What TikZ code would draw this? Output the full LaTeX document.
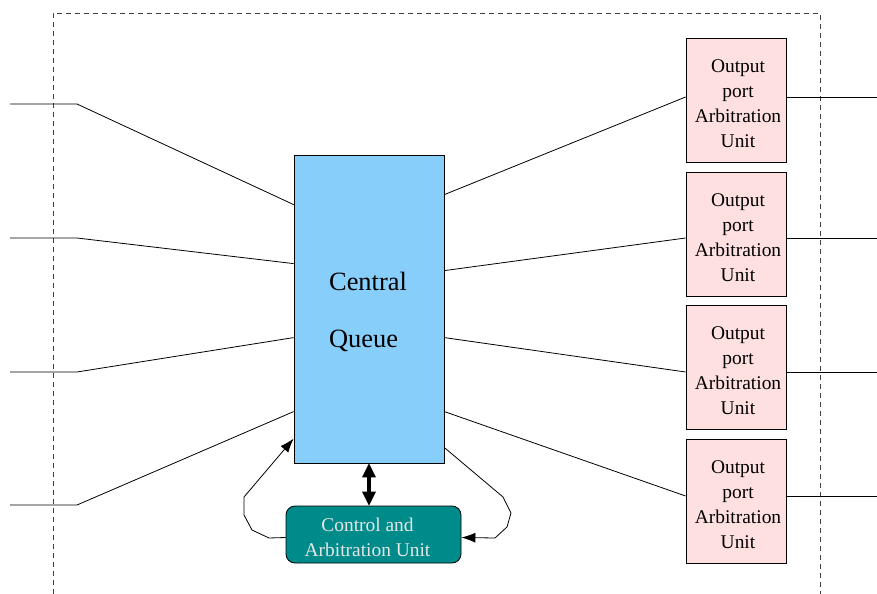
\documentclass[tikz,border=0pt]{standalone}
\usepackage{fontspec}
\setmainfont{Liberation Serif}
\usetikzlibrary{arrows.meta}
\definecolor{queueblue}{HTML}{87CEFA}
\definecolor{ctrlteal}{HTML}{008B8B}
\definecolor{portpink}{HTML}{FFE0E0}
\definecolor{ctrltext}{HTML}{E6E6E6}
\definecolor{borderdash}{HTML}{404040}
\tikzset{
  wire/.style={draw=black, line width=0.8bp},
  queuebox/.style={draw=black, line width=0.8bp, fill=queueblue,
    minimum width=150bp, minimum height=308bp, inner sep=0pt},
  queuetext/.style={inner sep=0pt, font=\fontsize{26.5}{58}\selectfont, align=left},
  ctrlbox/.style={draw=black, line width=0.8bp, fill=ctrlteal, rounded corners=9bp,
    minimum width=175bp, minimum height=57bp, inner sep=0pt},
  ctrltextstyle/.style={inner sep=0pt, text=ctrltext,
    font=\fontsize{19.5}{25}\selectfont, align=center},
  portbox/.style={draw=black, line width=0.8bp, fill=portpink,
    minimum width=100bp, minimum height=124bp, inner sep=0pt},
  porttext/.style={inner sep=0pt, font=\fontsize{19.5}{25}\selectfont, align=center},
  feedback/.style={wire, -{Latex[length=14bp,width=10bp]}},
  tiphead/.style={draw=none, fill=black},
  busline/.style={draw=black, line width=3.2bp},
  boundary/.style={draw=borderdash, line width=0.8bp, dash pattern=on 5bp off 4bp}
}
\begin{document}
\begin{tikzpicture}[x=1bp,y=-1bp]
\useasboundingbox (0,0) rectangle (877,594);

% switch boundary (open at the bottom)
\draw[boundary] (53,594) -- (53,13) -- (820,13) -- (820,594);

% central queue and its control unit
\node[queuebox] (cq) at (369,309) {};
\node[queuetext] (cqtext) at ([xshift=-1bp,yshift=-3bp]cq.center) {Central\\Queue};
\node[ctrlbox] (ctrl) at (373.5,534.5) {};
\node[ctrltextstyle] (ctrltxt) at ([xshift=-6bp,yshift=-3bp]ctrl.center) {Control and\\Arbitration Unit};

% output port arbitration units
\foreach \i/\y in {1/100,2/234,3/367,4/501}{
  \node[portbox] (p\i) at (736,\y) {};
  \node[porttext] (p\i text) at ([xshift=2bp,yshift=-4bp]p\i.center) {Output\\port\\Arbitration\\Unit};
}

% input links
\coordinate (in1) at (10,104);
\coordinate (in2) at (10,238);
\coordinate (in3) at (10,372);
\coordinate (in4) at (10,505);
\draw[wire] (in1) -- (77,104) -- ([yshift=-50bp]cq.north west);
\draw[wire] (in2) -- (77,238) -- ([yshift=-109bp]cq.north west);
\draw[wire] (in3) -- (77,372) -- ([yshift=-183bp]cq.north west);
\draw[wire] (in4) -- (77,505) -- ([yshift=-257bp]cq.north west);

% queue to output port units
\draw[wire] ([yshift=-40bp]cq.north east) -- ([yshift=3bp]p1.west);
\draw[wire] ([yshift=-116bp]cq.north east) -- ([yshift=-4bp]p2.west);
\draw[wire] ([yshift=-183bp]cq.north east) -- ([yshift=-5bp]p3.west);
\draw[wire] ([yshift=-257bp]cq.north east) -- ([yshift=5bp]p4.west);

% output links
\draw[wire] ([yshift=3bp]p1.east) -- +(91,0);
\draw[wire] ([yshift=-4bp]p2.east) -- +(91,0);
\draw[wire] ([yshift=-5bp]p3.east) -- +(91,0);
\draw[wire] ([yshift=5bp]p4.east) -- +(91,0);

% double-headed bus between the queue and the control unit
\coordinate (busa) at (cq.south);
\coordinate (busb) at (ctrl.north -| cq.south);
\draw[busline] ([yshift=-10bp]busa) -- ([yshift=10bp]busb);
\fill[tiphead] (busa) -- ++(-7,14) -- ++(14,0) -- cycle;
\fill[tiphead] (busb) -- ++(-7,-14) -- ++(14,0) -- cycle;

% feedback paths around the control unit
\draw[feedback] ([yshift=-3bp]ctrl.west) -- (269,538) -- (252,530) -- (244,515)
  -- (244,497) -- ([yshift=-284bp]cq.north west);
\draw[feedback] ([yshift=-293bp]cq.north east) -- (503,497) -- (511,513)
  -- (507,527) -- (495,538) -- ([yshift=-3bp]ctrl.east);
\end{tikzpicture}
\end{document}
